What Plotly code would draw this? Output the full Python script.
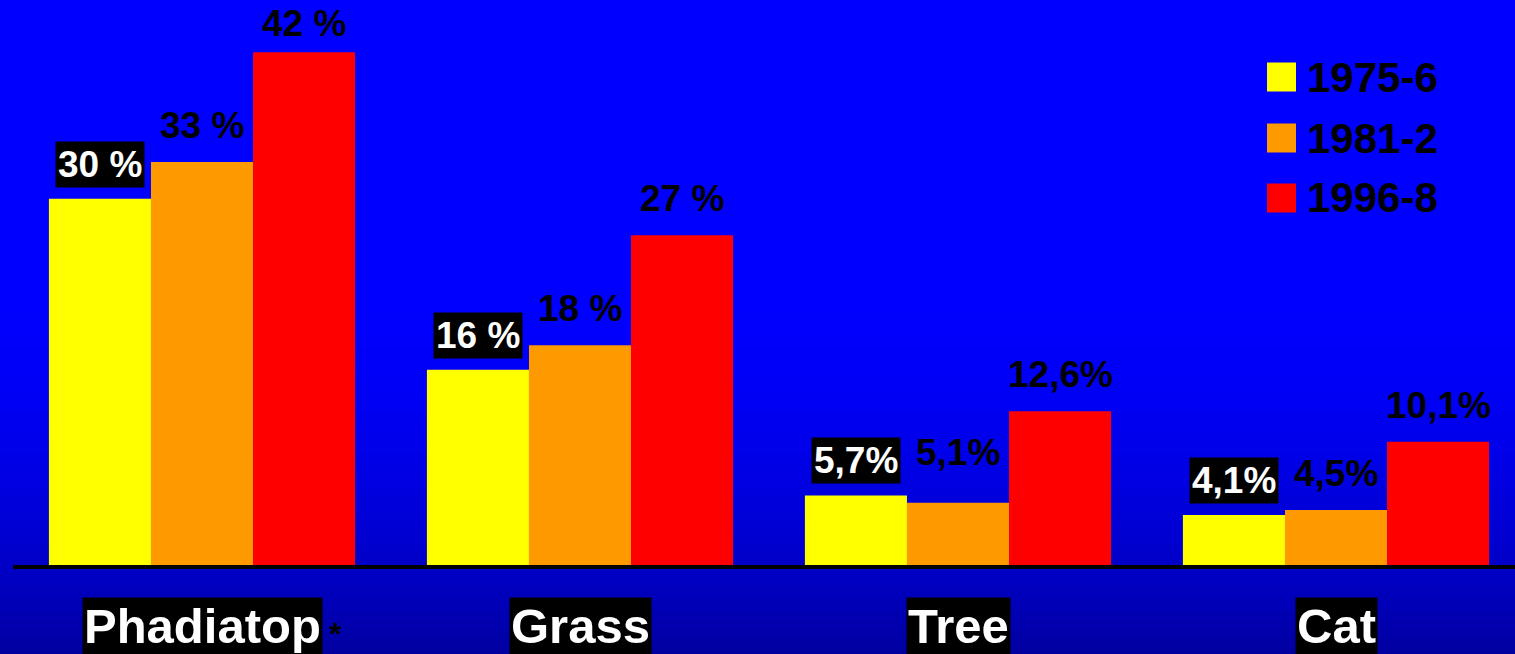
import plotly.graph_objects as go

# ---------------- data ----------------
categories = ["Phadiatop", "Grass", "Tree", "Cat"]
series_names = ["1975-6", "1981-2", "1996-8"]
values_1975 = [30, 16, 5.7, 4.1]
values_1981 = [33, 18, 5.1, 4.5]
values_1996 = [42, 27, 12.6, 10.1]
labels_1975 = ["30 %", "16 %", "5,7%", "4,1%"]
labels_1981 = ["33 %", "18 %", "5,1%", "4,5%"]
labels_1996 = ["42 %", "27 %", "12,6%", "10,1%"]

# ---------------- style ----------------
W, H = 1515, 654
ML, MR, MT, MB = 13, 0, 0, 89
PW, PH = W - ML - MR, H - MT - MB
colors = ["#FFFF00", "#FF9900", "#FF0000"]
FONT = "Liberation Sans, Arial, sans-serif"
BARGAP = 0.19
YMAX = 46.27
CAT_PX = 378.0
XMAX = -0.5 + PW / CAT_PX
# label vertical offsets in px (series index, category index) -> shift
LABEL_SHIFT_DEFAULT = [11, 13, 13]
LABEL_SHIFT_OVERRIDE = {(2, 0): 5, (1, 2): 27}

all_values = [values_1975, values_1981, values_1996]
all_labels = [labels_1975, labels_1981, labels_1996]

fig = go.Figure()
for name, vals, col in zip(series_names, all_values, colors):
    fig.add_trace(go.Bar(x=categories, y=vals, name=name,
                         marker=dict(color=col, line=dict(width=0)),
                         showlegend=False))

def px_to_paper_y(py):
    return (MT + PH - py) / PH

def px_to_paper_x(px):
    return (px - ML) / PW

shapes = []
# background gradient (pure blue at top, darker towards the bottom)
step = 3
for py in range(240, H + step, step):
    t = max(0.0, (py - 260) / 394.0)
    b = int(round(255 - 95 * min(1.0, t) ** 2))
    shapes.append(dict(type="rect", xref="paper", yref="paper", layer="below",
                       x0=px_to_paper_x(-5), x1=px_to_paper_x(W + 5),
                       y0=px_to_paper_y(py + step + 0.5), y1=px_to_paper_y(py),
                       fillcolor=f"rgb(0,0,{b})", line=dict(width=0)))

annotations = []
bar_w = (1 - BARGAP) / 3
for j, (vals, labs) in enumerate(zip(all_values, all_labels)):
    for i, (v, lab) in enumerate(zip(vals, labs)):
        first = (j == 0)
        annotations.append(dict(
            x=i + (j - 1) * bar_w, y=v, xref="x", yref="y",
            text=lab, showarrow=False, xanchor="center", yanchor="bottom",
            yshift=LABEL_SHIFT_OVERRIDE.get((j, i), LABEL_SHIFT_DEFAULT[j]),
            bgcolor="#000000" if first else "rgba(0,0,0,0)",
            borderpad=2,
            font=dict(family=FONT, size=37, weight="bold",
                      color="#FFFFFF" if first else "#000000")))

# category labels with black boxes
for c in categories:
    annotations.append(dict(
        x=c, y=px_to_paper_y(597), xref="x", yref="paper", text=c,
        showarrow=False, xanchor="center", yanchor="top",
        bgcolor="#000000", borderpad=1,
        font=dict(family=FONT, size=49, weight="bold", color="#FFFFFF")))
# asterisk after the first category
annotations.append(dict(
    x=0, y=px_to_paper_y(653), xref="x", yref="paper", xshift=133, text="*",
    showarrow=False, xanchor="center", yanchor="bottom", borderpad=0,
    font=dict(family=FONT, size=32, weight="bold", color="#000000")))

# legend (manual, large squares)
leg_rows = [77, 138, 198]
for name, col, cy in zip(series_names, colors, leg_rows):
    shapes.append(dict(type="rect", xref="paper", yref="paper",
                       x0=px_to_paper_x(1267), x1=px_to_paper_x(1296),
                       y0=px_to_paper_y(cy + 14.5), y1=px_to_paper_y(cy - 14.5),
                       fillcolor=col, line=dict(width=0)))
    annotations.append(dict(
        x=px_to_paper_x(1305), y=px_to_paper_y(cy), xref="paper", yref="paper",
        text=name, showarrow=False, xanchor="left", yanchor="middle",
        font=dict(family=FONT, size=42, weight="bold", color="#000000")))

fig.update_layout(
    width=W, height=H,
    margin=dict(l=ML, r=MR, t=MT, b=MB, pad=0),
    paper_bgcolor="#0000FF", plot_bgcolor="rgba(0,0,0,0)",
    barmode="group", bargap=BARGAP, bargroupgap=0,
    showlegend=False,
    shapes=shapes, annotations=annotations,
    xaxis=dict(type="category", range=[-0.5, XMAX], showticklabels=False,
               ticks="", showgrid=False, zeroline=False,
               showline=True, linecolor="#000000", linewidth=4, fixedrange=True),
    yaxis=dict(range=[0, YMAX], visible=False, showgrid=False, zeroline=False,
               fixedrange=True),
)

fig.write_html("out.html", config={"displayModeBar": False})
